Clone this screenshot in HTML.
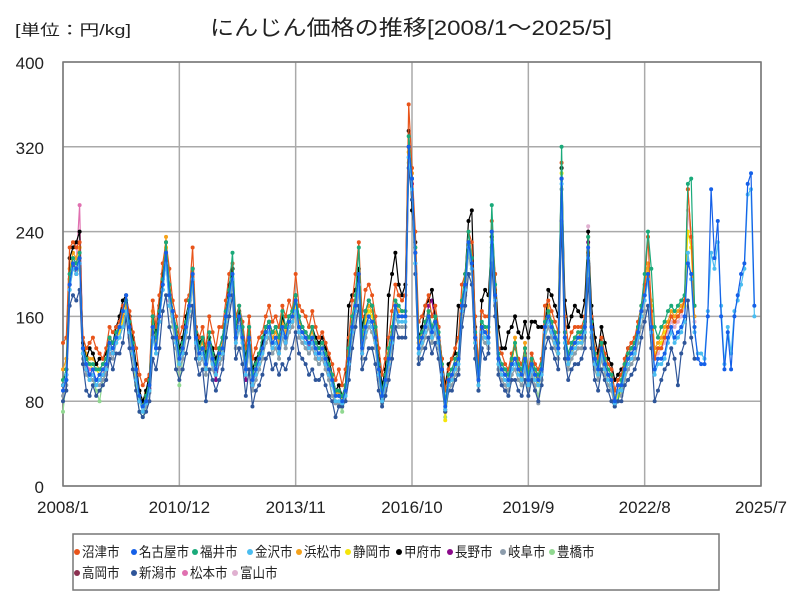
<!DOCTYPE html>
<html><head><meta charset="utf-8"><style>
body{margin:0;background:#fff;}
svg{display:block;font-family:"Liberation Sans","Noto Sans CJK JP",sans-serif;}
</style></head><body>
<svg id="chart" width="800" height="600" viewBox="0 0 800 600">
<rect x="0" y="0" width="800" height="600" fill="#fff"/>
<text x="15" y="35" font-size="15" textLength="116" lengthAdjust="spacingAndGlyphs" fill="#222">[単位：円/kg]</text>
<text x="210" y="35" font-size="21" textLength="402" lengthAdjust="spacingAndGlyphs" fill="#222">にんじん価格の推移[2008/1～2025/5]</text>
<g id="grid"></g><g id="axes"></g><g id="series"></g>
<rect x="73" y="534" width="646" height="56" fill="none" stroke="#777" stroke-width="1.5"/>
<g id="legend"></g>
</svg>
<script>
const yTicks=[0,80,160,240,320,400];
const xTickLabels=["2008/1","2010/12","2013/11","2016/10","2019/9","2022/8","2025/7"];
const xTickMonths=[0,35,70,105,140,175,210];
const numazu=[135,140,225,230,225,230,140,130,135,140,130,125,120,130,150,145,150,155,170,175,165,145,130,105,95,100,105,175,150,180,210,230,205,175,160,140,150,175,180,225,150,140,150,130,160,145,130,150,150,175,200,210,160,170,155,130,160,120,130,140,145,160,170,155,160,150,170,160,175,165,200,170,165,160,150,165,150,140,145,135,125,115,100,110,95,110,140,175,200,230,160,185,190,180,160,130,105,120,140,165,190,180,175,180,360,300,240,155,160,170,180,160,170,150,120,90,110,120,130,140,190,200,240,230,160,115,165,160,160,250,200,130,125,115,110,125,130,120,115,130,110,125,115,110,120,170,175,165,155,145,305,160,135,145,150,150,150,160,235,160,130,120,140,125,115,110,90,100,105,120,130,135,140,155,170,190,235,165,120,130,130,140,150,160,155,160,165,175,280,235,170];
const nagoya=[90,100,190,210,205,215,130,115,105,110,100,105,110,115,135,130,140,150,165,180,150,130,110,85,75,80,95,150,130,160,190,220,180,165,140,120,130,150,170,200,140,125,130,115,135,120,110,125,130,160,180,200,140,160,140,110,140,100,110,120,130,145,150,135,140,130,150,140,155,160,175,150,145,140,135,140,130,125,130,120,110,100,85,85,80,90,120,150,170,200,130,150,160,155,140,110,85,100,120,140,170,160,160,160,320,290,220,130,140,150,160,145,155,140,110,75,100,105,115,120,170,190,230,210,140,100,150,145,140,240,180,120,110,105,100,115,120,110,105,120,100,115,105,100,110,150,160,150,140,130,290,140,120,130,135,140,140,150,225,150,120,110,130,115,105,100,80,95,95,110,120,125,130,145,165,180,200,150,110,120,120,125,140,150,140,145,150,160,210,200,150,120,115,115,160,280,215,250,160,110,145,110,160,180,200,210,285,295,170];
const fukui=[100,110,200,215,210,220,130,120,115,115,110,110,115,120,140,135,145,150,165,175,155,135,110,85,75,85,100,160,140,165,195,230,190,165,150,125,135,155,175,205,145,130,140,120,145,125,115,130,140,165,185,220,150,170,150,115,150,105,115,125,140,150,155,145,150,140,165,150,160,165,180,160,150,145,140,150,135,130,135,125,115,105,90,90,85,95,130,160,180,225,140,165,175,170,150,115,90,105,130,150,175,170,165,165,330,290,225,140,145,155,165,150,160,145,115,80,105,110,120,125,175,200,240,215,145,105,155,150,150,265,190,125,115,110,105,120,135,115,110,130,105,120,110,105,115,155,165,155,145,135,320,145,125,135,140,145,145,155,235,155,125,115,135,120,110,105,80,80,100,115,125,130,135,150,170,200,240,205,150,140,150,155,165,170,165,170,175,180,285,290,170];
const kanazawa=[95,105,185,205,200,210,125,110,100,105,95,100,105,110,130,125,135,140,150,165,145,125,100,80,70,78,90,140,125,155,185,210,170,160,135,115,125,145,165,195,135,120,125,110,130,115,105,120,125,155,175,195,135,150,135,105,135,95,105,115,125,140,145,130,135,125,145,135,150,155,165,145,140,135,130,135,125,120,125,115,105,95,80,80,78,85,115,145,165,190,125,145,155,150,135,105,80,95,115,135,165,155,155,155,310,280,210,125,135,145,155,140,150,135,105,72,95,100,110,115,165,185,225,205,135,95,145,140,135,230,175,115,105,100,95,110,115,105,100,115,95,110,100,95,105,145,155,145,135,125,285,135,115,125,130,135,135,145,215,145,115,105,125,110,100,95,78,90,90,105,115,120,125,140,160,175,195,145,105,115,115,120,135,145,135,140,145,155,220,195,145,125,125,120,165,220,205,230,170,115,150,125,165,175,190,205,275,280,160];
const hamamatsu=[110,120,205,220,215,225,135,125,120,120,115,110,115,120,140,135,145,150,160,170,150,130,110,90,80,88,100,165,140,170,200,235,185,165,145,125,135,155,170,200,145,130,135,120,140,125,115,125,135,160,185,205,145,165,145,115,145,105,115,125,135,150,150,140,145,135,155,145,160,160,175,155,150,145,140,145,135,130,135,125,115,100,88,88,85,92,125,155,175,200,135,160,170,165,145,115,88,100,125,145,175,165,165,165,320,295,225,135,145,155,165,150,160,140,115,70,100,105,115,125,170,195,230,210,140,100,150,150,145,240,185,120,110,110,105,120,140,115,105,135,100,120,110,100,115,150,170,155,145,130,300,145,120,130,140,145,140,150,220,150,120,110,130,115,105,100,85,90,95,110,125,130,135,150,165,185,210,175,130,135,140,150,155,165,160,165,170,175,280,235,160];
const shizuoka=[100,110,195,210,205,215,125,120,115,110,110,105,110,115,135,130,140,145,155,165,145,125,105,85,78,85,95,155,135,165,195,225,180,160,140,120,130,150,165,195,140,125,130,110,135,120,110,120,130,155,180,195,140,160,140,110,140,100,110,120,130,145,145,135,140,130,150,140,155,155,170,150,145,140,135,140,130,125,130,120,110,95,85,85,82,90,120,150,170,195,130,155,165,160,140,110,85,95,120,140,170,160,160,160,315,290,220,130,140,150,160,145,155,135,110,62,95,100,110,120,165,190,225,205,135,95,145,145,140,235,180,115,105,105,100,115,135,110,100,130,95,115,105,95,110,145,165,150,140,125,295,140,115,125,135,140,135,145,215,145,115,105,125,110,100,95,80,85,90,105,120,125,130,145,160,180,205,170,125,130,135,145,150,160,155,160,165,170,240,225,150];
const kofu=[95,110,215,225,230,240,135,120,130,125,115,120,120,125,140,135,150,160,175,180,160,140,115,90,80,90,105,160,145,170,200,220,190,165,150,130,140,160,175,205,150,135,140,125,140,130,120,130,140,165,190,205,150,165,150,120,150,110,120,125,135,150,155,145,150,140,160,150,160,165,180,160,150,145,140,150,140,135,140,130,120,105,90,95,85,95,170,180,185,205,150,165,175,170,150,120,95,110,180,200,220,190,180,190,335,260,230,140,150,170,175,185,160,150,120,95,115,120,125,170,165,200,250,260,150,110,175,185,180,235,200,150,130,130,145,150,160,145,140,155,140,155,155,150,150,150,185,180,170,160,300,175,150,160,170,165,160,175,240,170,140,125,150,135,120,115,100,105,110,115,130,130,135,150];
const nagano=[95,105,190,210,200,210,125,110,105,105,100,100,105,110,130,125,140,145,155,165,145,125,105,85,75,80,92,150,130,165,195,215,180,160,140,120,130,150,170,205,140,125,130,110,135,120,100,120,130,160,180,195,140,160,140,100,140,95,110,120,130,145,150,135,140,130,150,135,155,155,170,150,145,140,130,140,125,120,125,115,105,95,85,85,80,90,120,150,165,195,125,150,160,155,140,105,85,95,120,140,170,160,160,160,320,285,220,130,140,150,170,175,155,135,110,72,95,105,115,120,170,190,230,215,140,100,150,145,140,240,180,120,110,105,110,115,120,115,105,125,100,115,105,100,110,150,160,150,140,130,290,140,120,130,135,140,145,155,230,150,120,110,130,115,105,100,82,95,95,110,120,125,130,145,165,180];
const gifu=[85,95,185,205,200,210,120,105,100,100,95,95,100,105,125,120,135,140,150,160,140,120,100,80,70,75,88,140,125,155,185,210,170,155,130,110,120,140,160,190,130,115,120,105,125,110,100,115,120,150,170,190,130,150,130,100,130,90,100,110,120,135,140,125,130,120,140,130,145,150,165,140,135,130,125,130,120,115,120,110,100,85,78,78,75,85,110,140,160,185,120,140,150,145,130,100,78,90,110,130,160,150,150,150,310,280,210,120,130,140,150,135,145,130,100,70,90,95,105,110,160,180,220,200,130,90,140,135,130,225,170,110,100,95,90,105,110,100,95,110,90,105,95,78,100,140,150,140,130,120,280,130,110,120,125,130,130,140,210,140,110,100,120,105,95,90,75,88,85,100,110,115,120,135,150,165];
const toyohashi=[70,100,190,205,200,205,125,105,100,100,90,80,100,110,130,125,135,140,150,160,140,120,95,70,65,75,90,145,125,155,185,210,170,150,130,95,120,140,160,190,130,115,120,105,125,110,100,115,120,150,170,190,130,150,130,100,130,90,100,110,120,135,140,125,130,120,140,130,145,150,165,140,135,130,125,130,120,115,120,110,100,85,80,78,70,85,110,140,160,185,120,140,150,145,130,100,78,90,110,130,160,150,150,150,305,280,210,120,130,140,150,135,145,130,100,65,90,95,105,110,160,180,220,200,130,90,140,135,130,225,170,110,100,95,90,105,110,100,95,110,90,105,95,85,100,140,150,140,130,120,280,130,110,120,125,130,130,140,210,140,110,100,120,105,95,90,75,85,88,100,110,115,120,135,150,165];
const takaoka=[95,100,195,210,205,215,125,110,105,105,100,100,105,110,130,125,140,145,155,165,145,125,105,85,75,82,95,150,130,160,190,215,175,160,140,120,130,150,170,200,140,125,130,110,135,120,100,120,130,160,180,195,140,160,140,100,140,95,110,120];
const niigata=[80,90,170,180,175,185,115,90,85,95,85,90,95,100,120,110,125,125,135,160,130,110,90,70,65,70,80,120,110,130,165,180,150,140,110,100,110,125,140,170,120,105,110,80,110,100,90,100,110,140,160,180,120,130,115,85,110,75,90,95,105,120,125,110,115,105,115,110,120,130,145,125,120,115,105,110,100,100,105,95,85,80,65,75,75,80,100,130,150,170,110,120,130,130,115,90,75,85,100,120,150,140,140,140,300,270,200,115,120,130,140,125,135,120,95,70,90,90,100,105,150,170,200,190,120,90,130,120,125,210,160,105,95,90,85,100,100,90,85,100,85,100,90,80,95,130,140,130,120,110,250,120,100,110,115,115,120,130,195,130,100,90,110,100,90,80,75,80,80,95,100,105,110,120,140,155,170,130,80,90,100,110,115,130,120,95,125,135,175,140,120];
const matsumoto=[95,105,200,215,210,265,130,115,110,110,100,100,105,115,130,125,140,145,155,165,145,125,105,85,75,82,95,150,130,160,190,215,175,160,140,120,130,150,170,200,140,125,130,110,135,120,100,120,130,160,180,195,140,160,140,100,140,95,110,120];
const toyamaStart=96;
const toyama=[85,95,120,140,170,160,160,160,315,285,220,130,140,150,160,145,155,135,110,70,95,100,110,120,165,190,225,205,135,95,145,140,135,235,175,115,95,90,100,115,120,110,100,120,95,110,100,95,105,145,160,150,140,125,290,140,120,130,135,140,140,150,245,150,120,110,130,115,105,90,78,90,95,110,120,125,130,145,160,180,210,160,120,125,130,135,145,155,150,155,160,170,260,230,155];

const NS="http://www.w3.org/2000/svg";
const L=63,R=761,T=62,B=486;
const xs=m=>L+m*(R-L)/210;
const ys=v=>B-v*(B-T)/400;
const grid=document.getElementById('grid'),axes=document.getElementById('axes'),ser=document.getElementById('series'),leg=document.getElementById('legend');
function mk(tag,attrs,parent){const e=document.createElementNS(NS,tag);for(const k in attrs)e.setAttribute(k,attrs[k]);parent.appendChild(e);return e;}
yTicks.forEach(v=>{
  const ln=mk('line',{x1:L,x2:R,y1:ys(v),y2:ys(v),stroke:'#aaa','stroke-width':1.5},grid);
  
  
  const t=mk('text',{x:44,y:ys(v)+7,'font-size':17,'text-anchor':'end',fill:'#222'},axes);
  t.textContent=v;
  
  
});
xTickMonths.forEach((m,i)=>{
  const ln=mk('line',{x1:xs(m),x2:xs(m),y1:T,y2:B,stroke:'#aaa','stroke-width':1.5},grid);
  
  
  const t=mk('text',{x:xs(m),y:513,'font-size':17,'text-anchor':'middle',fill:'#222'},axes);
  t.textContent=xTickLabels[i];
  
  
});
const fr=mk('rect',{x:L,y:T,width:R-L,height:B-T,fill:'none',stroke:'#777','stroke-width':1.5},axes);



const seriesList=[
 {name:'takaoka',data:takaoka,start:0,color:'#8b3050'},
 {name:'matsumoto',data:matsumoto,start:0,color:'#e070b0'},
 {name:'toyama',data:toyama,start:toyamaStart,color:'#e0b0d0'},
 {name:'toyohashi',data:toyohashi,start:0,color:'#90d890'},
 {name:'gifu',data:gifu,start:0,color:'#8c9cac'},
 {name:'nagano',data:nagano,start:0,color:'#8b0a8b'},
 {name:'shizuoka',data:shizuoka,start:0,color:'#f5e50a'},
 {name:'hamamatsu',data:hamamatsu,start:0,color:'#f5a21b'},
 {name:'kofu',data:kofu,start:0,color:'#000000'},
 {name:'numazu',data:numazu,start:0,color:'#e8541a'},
 {name:'fukui',data:fukui,start:0,color:'#1aaa7a'},
 {name:'niigata',data:niigata,start:0,color:'#2e5599'},
 {name:'kanazawa',data:kanazawa,start:0,color:'#4bbdf0'},
 {name:'nagoya',data:nagoya,start:0,color:'#1560e8'}
];
seriesList.forEach(s=>{
  const g=mk('g',{},ser);
  
  
  const pts=s.data.map((v,i)=>xs(s.start+i).toFixed(1)+','+ys(v).toFixed(1)).join(' ');
  const pl=mk('polyline',{points:pts,fill:'none',stroke:s.color,'stroke-width':1.2},g);
  
  
  s.data.forEach((v,i)=>{
    const c=mk('circle',{cx:xs(s.start+i),cy:ys(v),r:2,fill:s.color},g);
    
    
  });
});
const legendItems=[
 ['沼津市','#e8541a',75,552],['名古屋市','#1560e8',132,552],['福井市','#1aaa7a',193,552],['金沢市','#4bbdf0',248,552],['浜松市','#f5a21b',297,552],['静岡市','#f5e50a',346,552],['甲府市','#000000',397,552],['長野市','#8b0a8b',448,552],['岐阜市','#8c9cac',501,552],['豊橋市','#90d890',550,552],
 ['高岡市','#8b3050',75,573],['新潟市','#2e5599',132,573],['松本市','#e070b0',183,573],['富山市','#e0b0d0',233,573]
];
legendItems.forEach(it=>{
  const g=mk('g',{},leg);
  
  
  mk('circle',{cx:it[2]+2,cy:it[3],r:3,fill:it[1]},g);
  const t=mk('text',{x:it[2]+7,y:it[3]+5,'font-size':14,fill:'#222',textLength:it[0].length*12.5,lengthAdjust:'spacingAndGlyphs'},g);
  t.textContent=it[0];
});
</script>
</body></html>
